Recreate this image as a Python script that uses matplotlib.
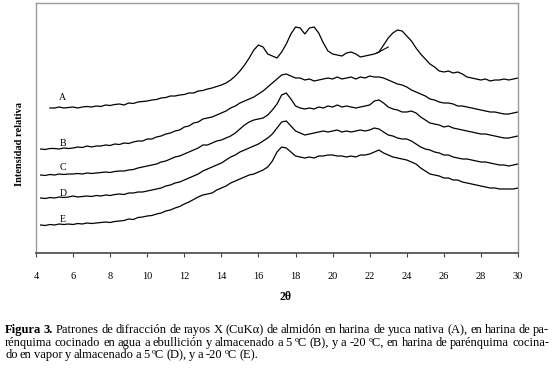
import matplotlib
matplotlib.use("Agg")
import matplotlib.pyplot as plt
import numpy as np

plt.rcParams['font.family'] = ['Liberation Serif', 'DejaVu Serif']

# Intensidad relativa (unidades arbitrarias), paso de 0.25 grados en 2θ
inicio = {'A': 4.75, 'B': 4.25, 'C': 4.25, 'D': 4.25, 'E': 4.25}

curva_A = [147, 147, 148, 147, 147.5, 148, 147, 148, 148.5, 148,
           149, 148.5, 150, 149.5, 150.5, 151, 150, 152, 151.5, 153,
           153.5, 154, 155, 155.5, 157, 157.5, 159, 159, 160, 160.5,
           162, 162, 164, 164.5, 166, 167, 168.5, 170, 172, 175,
           179, 184, 190, 197, 205, 210, 208, 201, 199, 197,
           203, 211, 221, 228, 227, 221, 227, 228, 222, 212,
           204, 201, 200, 199, 202, 203, 201, 198, 199, 200,
           201, 203, 210, 217, 222, 225, 224, 219, 214, 207,
           201, 196, 191, 188, 184, 183, 184, 182, 183, 181,
           178, 177, 176, 175, 176, 174, 175, 175, 176, 175, 176, 177]

curva_B = [106, 105.5, 106.5, 106.5, 106, 107, 106.5, 107, 108, 107.5,
           109, 108, 109, 109, 110, 109.5, 111, 110.5, 112, 111.5,
           113, 114, 114, 116, 116, 118, 119, 121, 122, 124,
           125, 128, 129, 132, 133, 136, 137, 138, 140, 142,
           144, 147, 149, 152, 154, 156, 158, 161, 164, 168,
           172, 176, 180, 181, 179, 177, 177, 175, 176, 174,
           175, 176, 177, 176, 178, 176, 177, 178, 176, 178,
           177, 179, 178, 178, 177, 175, 173, 171, 170, 168,
           165, 163, 161, 159, 156, 155, 153, 152, 152, 151,
           149, 149, 148, 147, 146, 145, 144, 143, 143, 142, 141, 141, 142, 143]

curva_C = [80, 79.5, 80.5, 80, 81, 80.5, 81, 81, 81.5, 81,
           82, 81.5, 82, 82.5, 83, 82.5, 83.5, 84, 84, 85,
           85.5, 87, 88, 89, 90, 91, 93, 94, 96, 98,
           99, 101, 103, 105, 107, 110, 110, 112, 114, 115,
           117, 119, 122, 126, 130, 133, 135, 136, 137, 140,
           145, 151, 160, 162, 156, 149, 147, 146, 147, 146,
           148, 147, 149, 148, 150, 148, 149, 148, 147, 148,
           149, 150, 154, 155, 152, 148, 146, 145, 143, 143,
           144, 142, 138, 135, 132, 131, 130, 128, 129, 127,
           126, 125, 124, 123, 122, 121, 121, 120, 119, 118, 117, 117, 118, 119]

curva_D = [57, 56.5, 57.5, 57, 58, 57.5, 58, 59, 58, 58.5,
           59, 58.5, 59.5, 59, 60, 59.5, 60.5, 61, 60.5, 62,
           62, 63, 63, 64, 65, 66, 67, 69, 70, 72,
           73, 75, 77, 79, 81, 84, 86, 88, 90, 92,
           95, 98, 100, 103, 105, 107, 109, 111, 114, 117,
           121, 127, 133, 134, 129, 124, 122, 120, 121, 122,
           123, 124, 123, 124, 125, 123, 124, 123, 124, 125,
           124, 125, 127, 126, 123, 120, 119, 117, 116, 116,
           114, 111, 108, 106, 105, 103, 102, 100, 100, 98,
           97, 96, 96, 95, 94, 93, 93, 92, 91, 90, 90, 89, 90, 91]

curva_E = [30, 29.5, 30.5, 30, 31, 30.5, 31, 30.5, 31.5, 31,
           32, 31.5, 32, 32.5, 33, 32.5, 33.5, 34, 34.5, 36,
           35.5, 37.5, 38, 39, 39.5, 41, 42, 44, 45, 47,
           48.5, 51, 53, 55.5, 58, 60, 61, 62, 65, 67,
           69, 72, 74, 76, 78, 80, 81, 83, 85, 88,
           94, 103, 108, 107, 103, 99, 98, 97, 98, 97,
           99, 99, 100, 100, 99, 99, 98, 99, 98, 100,
           100, 101, 103, 105, 102, 100, 98, 97, 96, 95,
           93, 91, 87, 84, 81, 80, 79, 77, 77, 75,
           75, 73, 72, 71, 70, 69, 68, 67, 67, 66, 66, 66, 66, 67]

# pequeno trazo extra sobre el pico de A cerca de 23 grados
extra_x = [22.4, 22.6, 22.8, 23.0]
extra_y = [202, 204, 206, 208]

etiquetas = ['A', 'B', 'C', 'D', 'E']
etiqueta_y = [157, 112, 88, 61, 36]
curvas = [curva_A, curva_B, curva_C, curva_D, curva_E]

fig = plt.figure(figsize=(5.57, 3.72), dpi=100)
ax = fig.add_axes([36 / 557, 1 - 253 / 372, 482 / 557, 250 / 372])

for nombre, datos in zip(etiquetas, curvas):
    x = np.linspace(inicio[nombre], 30, len(datos))
    ax.plot(x, datos, color='black', lw=0.9)
ax.plot(extra_x, extra_y, color='black', lw=0.8)

for nombre, yy in zip(etiquetas, etiqueta_y):
    ax.text(5.45, yy, nombre, fontsize=7, ha='center', va='center')

ax.set_xlim(4, 30)
ax.set_ylim(2, 252)
ax.set_xticks(np.arange(4, 31, 2))
ax.set_yticks([])
ax.tick_params(axis='x', direction='out', length=3, width=0.8, color='#444444',
               labelsize=7.5, pad=11)
for lado in ['top', 'right', 'left']:
    ax.spines[lado].set_color('#999999')
    ax.spines[lado].set_linestyle((0, (1, 1)))
    ax.spines[lado].set_linewidth(1.0)
ax.spines['bottom'].set_color('#555555')
ax.spines['bottom'].set_linestyle((0, (1, 1)))
ax.spines['bottom'].set_linewidth(1.3)

fig.text(20 / 557, 1 - 144 / 372, 'Intensidad relativa', rotation=90,
         fontsize=7.5, fontweight='bold', ha='center', va='center')
fig.text(285 / 557, 1 - 297 / 372, '2θ', fontsize=8.5, fontweight='bold',
         ha='center', va='center')

# Pie de figura justificado
lineas = [
    "Figura 3. Patrones de difracción de rayos X (CuKα) de almidón en harina de yuca nativa (A), en harina de pa-",
    "rénquima cocinado en agua a ebullición y almacenado a 5 ºC (B), y a -20 ºC, en harina de parénquima cocina-",
    "do en vapor y almacenado a 5 ºC (D), y a -20 ºC (E).",
]
lineas_y = [330, 343, 355]
lineas_fin = [549, 549, 258]
x0 = 5

fig.canvas.draw()
renderer = fig.canvas.get_renderer()
for i, (linea, ypix, x1) in enumerate(zip(lineas, lineas_y, lineas_fin)):
    palabras = linea.split(' ')
    objetos = []
    for j, p in enumerate(palabras):
        peso = 'bold' if (i == 0 and j < 2) else 'normal'
        t = fig.text(0, 1 - ypix / 372, p, fontsize=9, fontweight=peso,
                     va='center', ha='left')
        objetos.append(t)
    anchos = [t.get_window_extent(renderer).width for t in objetos]
    hueco = (x1 - x0 - sum(anchos)) / (len(palabras) - 1)
    xp = x0
    for t, w in zip(objetos, anchos):
        t.set_x(xp / 557)
        xp += w + hueco

fig.savefig('out.png', dpi=100)
